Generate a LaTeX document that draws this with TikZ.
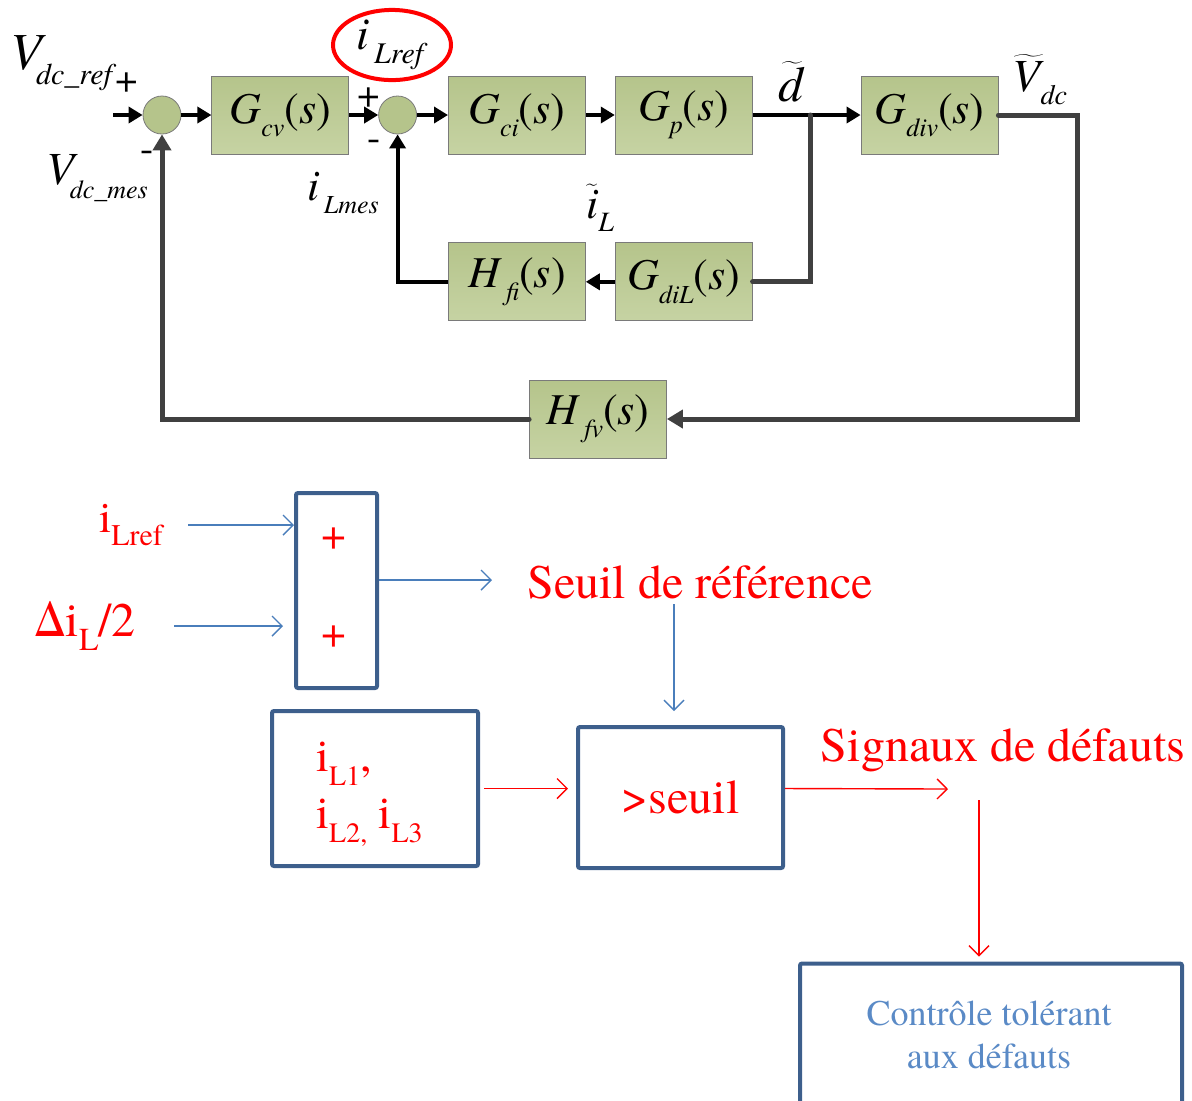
\documentclass[tikz,border=0pt]{standalone}
\usepackage{fontspec}
\IfFontExistsTF{texgyretermes-regular.otf}{%
  \setmainfont{texgyretermes}[Extension=.otf,UprightFont=*-regular,ItalicFont=*-italic,BoldFont=*-bold,BoldItalicFont=*-bolditalic]}{%
  \setmainfont{Liberation Serif}}
\usepackage{xcolor}
\usepackage{tikz}
\usetikzlibrary{positioning,arrows.meta,shapes.geometric}
\definecolor{blkfill}{HTML}{B5C48B}
\definecolor{blkfill2}{HTML}{C6D3A3}
\definecolor{blkline}{HTML}{7A7A7A}
\definecolor{wire}{HTML}{404040}
\definecolor{bxline}{HTML}{3D5F8C}
\definecolor{barrow}{HTML}{4A7EBB}
\definecolor{ftcblue}{HTML}{5A8AC6}
\newcommand{\lo}[2]{\raisebox{-.3em}{\fontsize{#1}{#1}\selectfont #2}}
\newcommand{\tf}[2]{\textit{#1}\lo{13pt}{\textit{#2}}(\textit{s})}

\begin{document}
\begin{tikzpicture}[x=0.5pt,y=-0.5pt,>=Triangle,node distance=15pt]
\tikzstyle{blk}=[draw=blkline,top color=blkfill,bottom color=blkfill2,minimum width=68.5pt,minimum height=39pt,inner sep=0pt,font=\fontsize{22}{22}\selectfont]
\tikzstyle{sumc}=[circle,draw=blkline,fill=blkfill,minimum size=19pt,inner sep=0pt]
\tikzstyle{fwd}=[line width=2pt,-{Triangle[length=7pt,width=8pt]}]
\tikzstyle{fb}=[line width=2.5pt,wire,line cap=round]
\tikzstyle{lab}=[font=\fontsize{20}{20}\selectfont,inner sep=0pt]
\tikzstyle{bx}=[draw=bxline,line width=2pt,rounded corners=1pt,inner sep=0pt]
\tikzstyle{barr}=[barrow,line width=0.7pt,-{Straight Barb[length=5pt,width=10pt]}]
\tikzstyle{rarr}=[red,line width=0.7pt,-{Straight Barb[length=5pt,width=10pt]}]
\tikzstyle{rtxt}=[text=red,inner sep=0pt,font=\fontsize{24}{24}\selectfont]
\useasboundingbox (0,0) rectangle (1192,1100);
\clip (0,0) rectangle (1192,1100);

% boucles tension / courant
\node[sumc] (s1) at (162,115) {};
\node[blk,right=of s1] (gcv) {\tf{G}{cv}};
\node[sumc,right=14.5pt of gcv] (s2) {};
\node[blk,right=15.5pt of s2] (gci) {\tf{G}{ci}};
\node[blk,right=14.5pt of gci] (gp) {\tf{G}{p}};
\node[blk,right=54pt of gp] (gdiv) {\tf{G}{div}};
\node[blk,below=44pt of gp] (gdil) {\tf{G}{diL}};
\node[blk,below=44pt of gci] (hfi) {\tf{H}{\,fi}};
\node[blk] (hfv) at (598,419) {\tf{H}{\,fv}};
\coordinate (in) at (113,115);
\coordinate (br) at (810,115);
\draw[fwd] (in) -- (s1.west);
\draw[fwd] (s1) -- (gcv);
\draw[fwd] (gcv) -- (s2);
\draw[fwd] (s2) -- (gci);
\draw[fwd] (gci) -- (gp);
\draw[fwd] (gp) -- (gdiv);
\draw[fb] (br) |- (gdil.east);
\draw[fwd] (gdil) -- (hfi);
\draw[fwd] (hfi.west) -| (s2.south);
\draw[fb,-{Triangle[length=8pt,width=9pt]}] (gdiv.east) -- ++(79,0) |- (hfv.east);
\draw[fb,-{Triangle[length=8pt,width=9pt]}] (hfv.west) -| (s1.south);

\node[lab,font=\fontsize{26}{26}\selectfont,anchor=west] (vref) at (10,63) {\textit{V}\kern-5pt\lo{15pt}{\textit{dc\_ref}}};
\node[lab] (p1) at (127,83) {+};
\node[lab] (m1) at (147,156) {-};
\node[lab,font=\fontsize{23}{23}\selectfont] (vmes) at (97,178) {\textit{V}\kern-4pt\lo{13pt}{\textit{dc\_mes}}};
\node[lab,ellipse,draw=red,line width=2pt,minimum width=59pt,minimum height=35pt,font=\fontsize{23}{23}\selectfont] (ilref) at (392,45) {\textit{i}\lo{15pt}{\,\textit{Lref}}};
\node[lab] (p2) at (369,98) {+};
\node[lab] (m2) at (374,145) {-};
\node[lab,font=\fontsize{22}{22}\selectfont] (ilmes) at (343,193) {\textit{i}\lo{13pt}{\,\textit{Lmes}}};
\node[lab,font=\fontsize{25}{25}\selectfont] (dt) at (792,82) {$\widetilde{\mbox{\textit{d}}}$};
\node[lab,font=\fontsize{23}{23}\selectfont] (vdc) at (1040,80) {$\widetilde{\mbox{\textit{V}}}$\kern-2pt\lo{14pt}{\textit{dc}}};
\node[lab,font=\fontsize{22}{22}\selectfont] (ilt) at (600,208) {$\widetilde{\mbox{\textit{i}}}$\lo{14pt}{\textit{L}}};

% detection de defauts
\node[bx,minimum width=40.5pt,minimum height=97.5pt] (sb) at (336.5,590.5) {};
\node[rtxt,font=\fontsize{22}{22}\selectfont] (pa) at (334,539) {+};
\node[rtxt,font=\fontsize{22}{22}\selectfont] (pb) at (334,637) {+};
\node[rtxt,font=\fontsize{22}{22}\selectfont] (ilr2) at (131,525) {i\lo{15pt}{Lref}};
\node[rtxt] (dil) at (85,626) {Δi\lo{16pt}{L}/2};
\coordinate (so) at (492,580);
\node[rtxt] (seuilref) at (700,582) {Seuil de référence};
\coordinate (sd) at (674,604);
\node[bx,minimum width=103pt,minimum height=77.5pt] (il) at (375,788.5) {};
\node[rtxt,align=left,anchor=west,font=\fontsize{23}{28.5}\selectfont] (iltx) at (316,794) {i\lo{14pt}{L1},\\i\lo{14pt}{L2,} i\lo{14pt}{L3}};
\node[bx,minimum width=102.5pt,minimum height=70.5pt,text=red,font=\fontsize{24}{24}\selectfont] (sq) at (680.5,797.5) {>seuil};
\node[rtxt] (sig) at (1003,750) {Signaux de défauts};
\coordinate (se) at (948,789);
\coordinate (sg) at (979,800);
\node[bx,minimum width=191pt,minimum height=73pt] (ftc) at (991,1036.5) {};
\node[text=ftcblue,align=center,inner sep=0pt,font=\fontsize{18}{21.5}\selectfont] (ftctx) at (989,1035) {Contrôle tolérant\\aux défauts};
\draw[barr] ([xshift=12.5pt]ilr2.east) -- (ilr2 -| sb.west);
\draw[barr] ([xshift=19pt]dil.east) -- ([xshift=-5.5pt]dil -| sb.west);
\draw[barr] (sb.east |- so) -- (so);
\draw[barr] (sd) -- ([yshift=7pt]sd |- sq.north);
\draw[rarr] ([xshift=2pt]il.east) -- ([xshift=-4pt]il -| sq.west);
\draw[rarr] (sq.east |- il) -- (se);
\draw[rarr] (sg) -- ([yshift=2.5pt]sg |- ftc.north);
\end{tikzpicture}
\end{document}
